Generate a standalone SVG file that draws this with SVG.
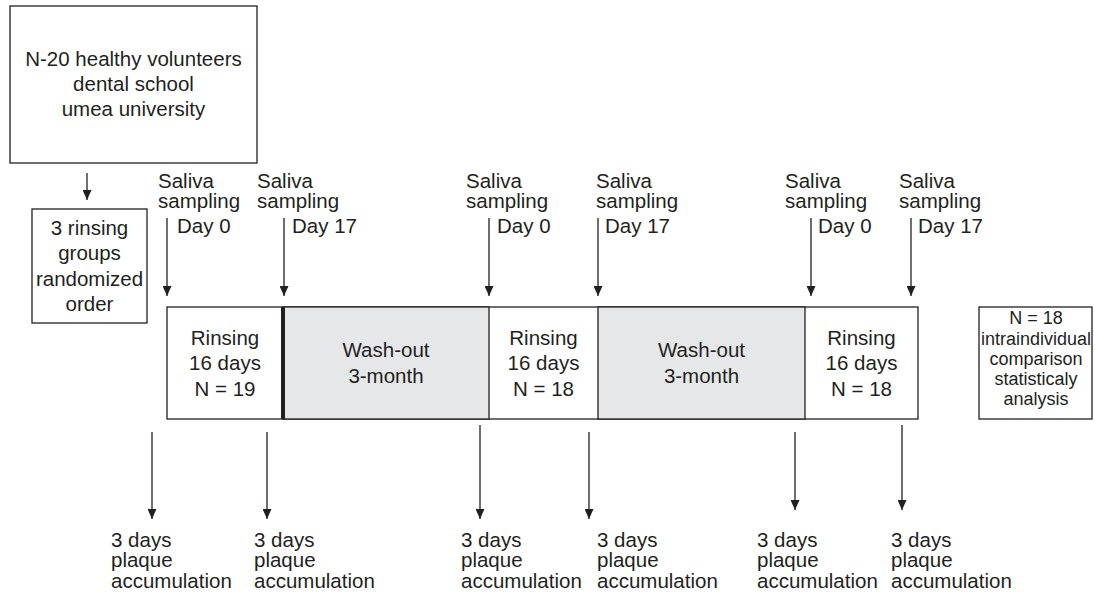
<svg xmlns="http://www.w3.org/2000/svg" width="1095" height="596" viewBox="0 0 1095 596">
<style>
  text { font-family: "Liberation Sans", Arial, sans-serif; font-size: 20.5px; fill: #231f20; }
  .c { text-anchor: middle; }
  .s { font-size: 18px; }
  .box { fill: #ffffff; stroke: #231f20; stroke-width: 1.3; }
  .grey { fill: #e6e7e8; stroke: #231f20; stroke-width: 1.3; }
  .arr { stroke: #231f20; stroke-width: 1.3; fill: none; marker-end: url(#ah); }
</style>
<defs>
  <marker id="ah" viewBox="0 0 10 9" refX="10" refY="4.5" markerWidth="10" markerHeight="9" markerUnits="userSpaceOnUse" orient="auto">
    <path d="M0,0 L10,4.5 L0,9 z" fill="#231f20"/>
  </marker>
</defs>
<rect width="1095" height="596" fill="#ffffff"/>

<g id="volunteers">
  <rect class="box" x="10" y="6" width="247" height="157"/>
  <text class="c" x="133.5" y="66">N-20 healthy volunteers</text>
  <text class="c" x="133.5" y="91">dental school</text>
  <text class="c" x="133.5" y="116">umea university</text>
</g>

<g id="groups">
  <rect class="box" x="32" y="209" width="115" height="114"/>
  <text class="c" x="89.5" y="235">3 rinsing</text>
  <text class="c" x="89.5" y="260">groups</text>
  <text class="c" x="89.5" y="286">randomized</text>
  <text class="c" x="89.5" y="311">order</text>
</g>

<g id="timeline">
  <rect class="box" x="167" y="307" width="751" height="112"/>
  <rect class="grey" x="283" y="307" width="206" height="112"/>
  <rect class="grey" x="598" y="307" width="207" height="112"/>
  <rect x="281" y="307" width="4" height="112" fill="#231f20"/>
</g>

<g id="rinsing1">
  <text class="c" x="225" y="345">Rinsing</text>
  <text class="c" x="225" y="370">16 days</text>
  <text class="c" x="225" y="396">N = 19</text>
</g>
<g id="washout1">
  <text class="c" x="386" y="357">Wash-out</text>
  <text class="c" x="386" y="383">3-month</text>
</g>
<g id="rinsing2">
  <text class="c" x="543.5" y="345">Rinsing</text>
  <text class="c" x="543.5" y="370">16 days</text>
  <text class="c" x="543.5" y="396">N = 18</text>
</g>
<g id="washout2">
  <text class="c" x="701.5" y="357">Wash-out</text>
  <text class="c" x="701.5" y="383">3-month</text>
</g>
<g id="rinsing3">
  <text class="c" x="861.5" y="345">Rinsing</text>
  <text class="c" x="861.5" y="370">16 days</text>
  <text class="c" x="861.5" y="396">N = 18</text>
</g>

<g id="analysis">
  <rect class="box" x="979" y="307" width="113" height="112"/>
  <text class="c s" x="1036" y="324">N = 18</text>
  <text class="c s" x="1036" y="345">intraindividual</text>
  <text class="c s" x="1036" y="365">comparison</text>
  <text class="c s" x="1036" y="385">statisticaly</text>
  <text class="c s" x="1036" y="405">analysis</text>
</g>

<g id="saliva-labels">
  <text x="158" y="188">Saliva</text><text x="158" y="208">sampling</text><text x="177" y="233">Day 0</text>
  <text x="257" y="188">Saliva</text><text x="257" y="208">sampling</text><text x="292" y="233">Day 17</text>
  <text x="466" y="188">Saliva</text><text x="466" y="208">sampling</text><text x="497" y="233">Day 0</text>
  <text x="596" y="188">Saliva</text><text x="596" y="208">sampling</text><text x="605" y="233">Day 17</text>
  <text x="785" y="188">Saliva</text><text x="785" y="208">sampling</text><text x="818" y="233">Day 0</text>
  <text x="899" y="188">Saliva</text><text x="899" y="208">sampling</text><text x="918" y="233">Day 17</text>
</g>

<g id="plaque-labels">
  <text x="111" y="547">3 days</text><text x="111" y="567">plaque</text><text x="111" y="588">accumulation</text>
  <text x="254" y="547">3 days</text><text x="254" y="567">plaque</text><text x="254" y="588">accumulation</text>
  <text x="461" y="547">3 days</text><text x="461" y="567">plaque</text><text x="461" y="588">accumulation</text>
  <text x="597" y="547">3 days</text><text x="597" y="567">plaque</text><text x="597" y="588">accumulation</text>
  <text x="757" y="547">3 days</text><text x="757" y="567">plaque</text><text x="757" y="588">accumulation</text>
  <text x="891" y="547">3 days</text><text x="891" y="567">plaque</text><text x="891" y="588">accumulation</text>
</g>

<g id="connectors">
  <line class="arr" x1="87" y1="173" x2="87" y2="200"/>
  <line class="arr" x1="167" y1="218" x2="167" y2="296"/>
  <line class="arr" x1="284" y1="218" x2="284" y2="296"/>
  <line class="arr" x1="489" y1="218" x2="489" y2="296"/>
  <line class="arr" x1="598" y1="218" x2="598" y2="296"/>
  <line class="arr" x1="811" y1="218" x2="811" y2="296"/>
  <line class="arr" x1="911" y1="218" x2="911" y2="296"/>
  <line class="arr" x1="152" y1="432" x2="152" y2="519"/>
  <line class="arr" x1="267" y1="432" x2="267" y2="519"/>
  <line class="arr" x1="480" y1="425" x2="480" y2="519"/>
  <line class="arr" x1="589" y1="432" x2="589" y2="519"/>
  <line class="arr" x1="795" y1="432" x2="795" y2="510"/>
  <line class="arr" x1="902" y1="425" x2="902" y2="510"/>
</g>
</svg>
